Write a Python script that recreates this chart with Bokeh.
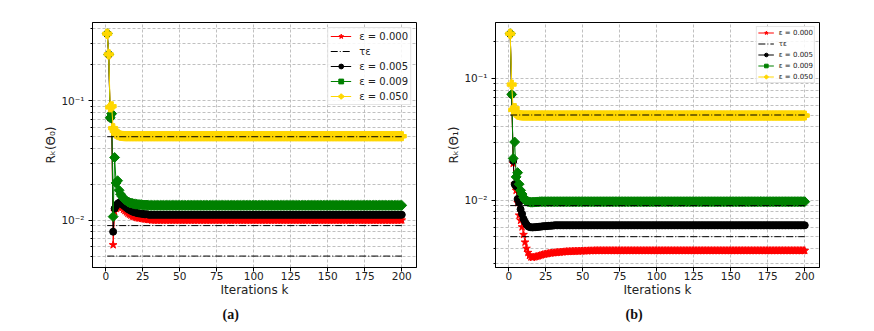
from bokeh.plotting import figure
from bokeh.layouts import row
from bokeh.models import Range1d, FixedTicker, Legend, LegendItem, Title
from bokeh.embed import file_html
from bokeh.resources import INLINE

# ---------------- data ----------------
K = list(range(1, 201))
N = len(K)

eps_labels = ["ε = 0.000", "ε = 0.005", "ε = 0.009", "ε = 0.050"]
tau_label = "τε"
tau_eps = [0.005, 0.009, 0.05]

# panel (a): R_k(Theta_0)
a_e000_head = [0.365, 0.245, 0.072, 0.078, 0.0062, 0.0118, 0.0125, 0.0130, 0.0132, 0.0130,
               0.0127, 0.0123, 0.0120, 0.0117, 0.0114, 0.0112, 0.0110, 0.0108, 0.0107, 0.0106,
               0.0105, 0.0104, 0.0104, 0.0103, 0.0103, 0.0102, 0.0102, 0.0101, 0.0101, 0.0101]
a_e000_tail = 0.0100
a_e005_head = [0.365, 0.245, 0.072, 0.078, 0.0080, 0.0125, 0.0132, 0.0137, 0.0140, 0.0139,
               0.0136, 0.0133, 0.0130, 0.0127, 0.0124, 0.0122, 0.0120, 0.0118, 0.0117, 0.0116,
               0.0115, 0.0114, 0.0114, 0.0113, 0.0113, 0.0112, 0.0112, 0.0112, 0.0111, 0.0111]
a_e005_tail = 0.0111
a_e009_head = [0.365, 0.245, 0.072, 0.078, 0.0107, 0.0335, 0.0205, 0.0214, 0.0178, 0.0165,
               0.0158, 0.0152, 0.0148, 0.0145, 0.0142, 0.0140, 0.0139, 0.0138, 0.0137, 0.0136,
               0.0136, 0.0135, 0.0135, 0.0135, 0.0134, 0.0134, 0.0134, 0.0134, 0.0133, 0.0133]
a_e009_tail = 0.0133
a_e050_head = [0.365, 0.245, 0.088, 0.090, 0.059, 0.056, 0.053, 0.052, 0.0515, 0.051,
               0.0508, 0.0506, 0.0505]
a_e050_tail = 0.0505

# panel (b): R_k(Theta_1)
b_e000_head = [0.233, 0.0738, 0.020, 0.0135, 0.0120, 0.0095, 0.0075, 0.0068, 0.0060, 0.0052,
               0.0045, 0.0040, 0.0037, 0.0035, 0.0034, 0.00337, 0.0034, 0.00342, 0.00344, 0.00347,
               0.0035, 0.00353, 0.00356, 0.00358, 0.0036, 0.00362, 0.00364, 0.00366, 0.00367, 0.00368,
               0.00369, 0.0037, 0.00371, 0.00372, 0.00373, 0.00374, 0.00375, 0.00376, 0.00377, 0.00377,
               0.00378, 0.00378, 0.00379, 0.00379, 0.0038, 0.0038, 0.0038, 0.00381, 0.00381, 0.00381,
               0.00382, 0.00382, 0.00382, 0.00383, 0.00383, 0.00383, 0.00383, 0.00384, 0.00384, 0.00384]
b_e000_tail = 0.00384
b_e005_head = [0.233, 0.0738, 0.021, 0.0135, 0.0130, 0.0102, 0.0095, 0.0084, 0.0077, 0.0070,
               0.0066, 0.0063, 0.0061, 0.0060, 0.00597, 0.00596, 0.00597, 0.00599, 0.0060, 0.00602,
               0.00604, 0.00606, 0.00608, 0.0061, 0.0061, 0.00612, 0.00614, 0.00615, 0.00616, 0.00617]
b_e005_tail = 0.0062
b_e009_head = [0.233, 0.0738, 0.022, 0.030, 0.0155, 0.0168, 0.0135, 0.0120, 0.0112, 0.0105,
               0.0100, 0.0098, 0.0097, 0.00965, 0.0096, 0.0096, 0.00962, 0.00964, 0.00965, 0.00966]
b_e009_tail = 0.0097
b_e050_head = [0.233, 0.089, 0.055, 0.057, 0.052, 0.0505, 0.0500, 0.0497, 0.0496, 0.0495]
b_e050_tail = 0.0495

x_ticks = [0, 25, 50, 75, 100, 125, 150, 175, 200]
y_major = [0.01, 0.1]
y_major_labels = {0.01: "10⁻²", 0.1: "10⁻¹"}
a_minor = [0.005, 0.006, 0.007, 0.008, 0.009, 0.02, 0.03, 0.04, 0.05, 0.06, 0.07, 0.08, 0.09, 0.2, 0.3, 0.4]
b_minor = [0.003, 0.004, 0.005, 0.006, 0.007, 0.008, 0.009, 0.02, 0.03, 0.04, 0.05, 0.06, 0.07, 0.08, 0.09, 0.2]


def full(head, tail):
    return head + [tail] * (N - len(head))


colors = ["#ff0000", "#000000", "#008000", "#ffd700"]
markers = ["star", "circle", "square", "plus"]
msizes = [8, 7, 7, 9]
mangles = [0, 0, 0.785398, 0]

FONT = "DejaVu Sans"


def make_panel(series, ylab, yr, minor, caption, border_left, border_right, fsize, lg):
    p = figure(width=border_left + 324 + border_right, height=323,
               frame_width=324, frame_height=245,
               min_border_left=border_left, min_border_right=border_right,
               min_border_top=22, min_border_bottom=56,
               y_axis_type="log",
               x_range=Range1d(-8.95, 209.95), y_range=Range1d(*yr),
               output_backend="svg", toolbar_location=None)
    p.background_fill_color = "white"
    p.border_fill_color = "white"
    p.outline_line_color = "black"
    p.outline_line_alpha = 1
    p.outline_line_width = 1

    p.xaxis.ticker = FixedTicker(ticks=x_ticks)
    p.yaxis.ticker = FixedTicker(ticks=y_major, minor_ticks=minor)
    p.yaxis.major_label_overrides = y_major_labels
    for ax in (p.xaxis, p.yaxis):
        ax.axis_line_color = "black"
        ax.major_tick_out = 4
        ax.major_tick_in = 0
        ax.minor_tick_out = 2
        ax.minor_tick_in = 0
        ax.major_label_text_font = FONT
        ax.major_label_text_font_size = "10.5px"
        ax.major_label_text_color = "#222222"
        ax.axis_label_text_font = FONT
        ax.axis_label_text_font_size = "12px"
        ax.axis_label_text_font_style = "normal"
        ax.axis_label_text_color = "#222222"
    p.xaxis.minor_tick_line_color = None
    p.xaxis.major_label_standoff = 0
    p.xaxis.axis_label_standoff = 0
    p.yaxis.major_label_standoff = 4
    p.yaxis.axis_label_standoff = 0
    p.xaxis.axis_label = "Iterations k"
    p.yaxis.axis_label = ylab

    p.xgrid.grid_line_color = "#b0b0b0"
    p.xgrid.grid_line_dash = "3 2"
    p.xgrid.grid_line_width = 0.8
    p.ygrid.grid_line_color = "#b0b0b0"
    p.ygrid.grid_line_dash = "3 2"
    p.ygrid.grid_line_width = 0.8
    p.ygrid.minor_grid_line_color = "#b0b0b0"
    p.ygrid.minor_grid_line_dash = "3 2"
    p.ygrid.minor_grid_line_width = 0.8

    items = []
    tau_renderer = None
    for i, vals in enumerate(series):
        ln = p.line(K, vals, line_color=colors[i], line_width=1)
        sc = p.scatter(K, vals, marker=markers[i], size=msizes[i], angle=mangles[i],
                       fill_color=colors[i], line_color=colors[i], line_width=1)
        items.append(LegendItem(label=eps_labels[i], renderers=[ln, sc]))
        if i >= 1:
            t = tau_eps[i - 1]
            tr = p.line([K[0], K[-1]], [t, t], line_color="black", line_width=1,
                        line_dash="7 2 1 2")
            if tau_renderer is None:
                tau_renderer = tr
    items.insert(1, LegendItem(label=tau_label, renderers=[tau_renderer]))

    legend = Legend(items=items, location="top_right")
    legend.label_text_font = FONT
    legend.label_text_font_size = f"{fsize}px"
    legend.label_text_color = "#222222"
    legend.border_line_color = "#cccccc"
    legend.border_line_width = 1
    legend.background_fill_alpha = 0.85
    legend.glyph_width = lg["gw"]
    legend.glyph_height = lg["gh"]
    legend.label_height = lg["gh"]
    legend.spacing = lg["sp"]
    legend.padding = lg["pad"]
    legend.margin = lg["margin"]
    legend.label_standoff = lg["stand"]
    p.add_layout(legend)

    cap = Title(text=caption, align="left", offset=130,
                text_font="Liberation Serif", text_font_style="bold",
                text_font_size="14px", text_color="#111111")
    p.add_layout(cap, "below")
    return p


pa = make_panel(
    [full(a_e000_head, a_e000_tail), full(a_e005_head, a_e005_tail),
     full(a_e009_head, a_e009_tail), full(a_e050_head, a_e050_tail)],
    "Rₖ(Θ₀)", (0.00401, 0.453), a_minor, "(a)", 92, 10, 10,
    dict(gw=21, gh=12, sp=3, pad=2, margin=5, stand=8))
pb = make_panel(
    [full(b_e000_head, b_e000_tail), full(b_e005_head, b_e005_tail),
     full(b_e009_head, b_e009_tail), full(b_e050_head, b_e050_tail)],
    "Rₖ(Θ₁)", (0.00279, 0.288), b_minor, "(b)", 69, 20, 7,
    dict(gw=16, gh=9, sp=2, pad=1, margin=4, stand=5))

layout = row(pa, pb)
open("out.html", "w").write(file_html(layout, INLINE))
